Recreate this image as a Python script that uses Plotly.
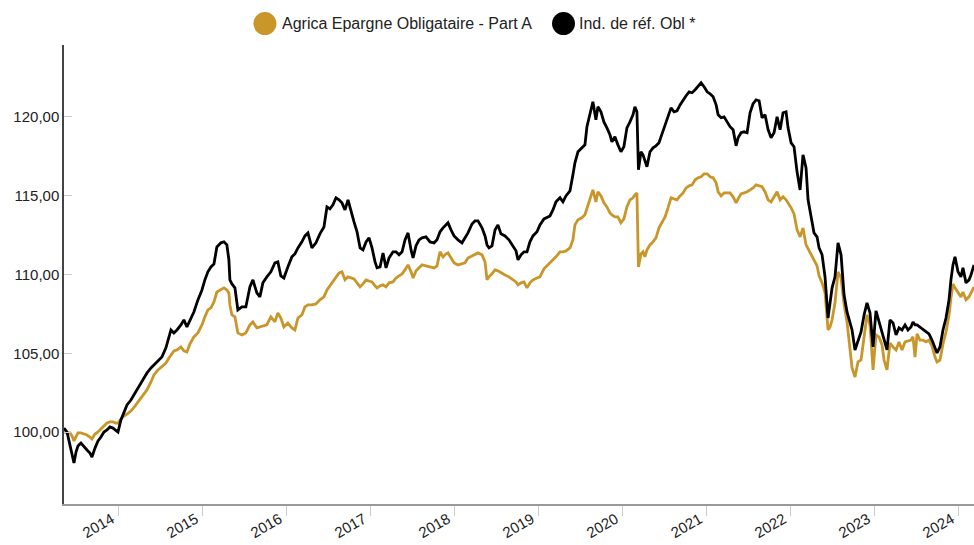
import calendar
from datetime import datetime, timedelta
import plotly.graph_objects as go

# Time in decimal years
t = [2013.349, 2013.385, 2013.420, 2013.444, 2013.468, 2013.492, 2013.515, 2013.551, 2013.587, 2013.623,
     2013.658, 2013.682, 2013.718, 2013.754, 2013.789, 2013.825, 2013.861, 2013.896, 2013.932, 2013.968,
     2013.992, 2014.027, 2014.063, 2014.099, 2014.146, 2014.194, 2014.242, 2014.289, 2014.337, 2014.385,
     2014.420, 2014.468, 2014.515, 2014.563, 2014.599, 2014.623, 2014.658, 2014.694, 2014.742, 2014.777,
     2014.813, 2014.849, 2014.896, 2014.944, 2014.992, 2015.027, 2015.063, 2015.099, 2015.135, 2015.170,
     2015.218, 2015.254, 2015.289, 2015.313, 2015.325, 2015.349, 2015.385, 2015.420, 2015.468, 2015.515,
     2015.563, 2015.599, 2015.646, 2015.682, 2015.718, 2015.765, 2015.813, 2015.861, 2015.896, 2015.932,
     2015.968, 2016.015, 2016.063, 2016.099, 2016.135, 2016.182, 2016.218, 2016.254, 2016.301, 2016.349,
     2016.396, 2016.444, 2016.480, 2016.515, 2016.551, 2016.587, 2016.623, 2016.658, 2016.694, 2016.730,
     2016.765, 2016.801, 2016.837, 2016.873, 2016.908, 2016.944, 2016.980, 2017.015, 2017.051, 2017.075,
     2017.111, 2017.146, 2017.182, 2017.218, 2017.265, 2017.301, 2017.337, 2017.373, 2017.408, 2017.444,
     2017.480, 2017.504, 2017.539, 2017.575, 2017.611, 2017.658, 2017.706, 2017.754, 2017.789, 2017.825,
     2017.861, 2017.896, 2017.920, 2017.956, 2017.992, 2018.039, 2018.087, 2018.123, 2018.158, 2018.206,
     2018.242, 2018.277, 2018.325, 2018.361, 2018.385, 2018.408, 2018.444, 2018.480, 2018.515, 2018.551,
     2018.599, 2018.646, 2018.694, 2018.730, 2018.754, 2018.790, 2018.825, 2018.861, 2018.896, 2018.932,
     2018.980, 2019.015, 2019.063, 2019.099, 2019.135, 2019.170, 2019.206, 2019.254, 2019.289, 2019.325,
     2019.373, 2019.408, 2019.432, 2019.468, 2019.515, 2019.551, 2019.575, 2019.611, 2019.646, 2019.682,
     2019.706, 2019.742, 2019.777, 2019.813, 2019.849, 2019.873, 2019.908, 2019.944, 2019.980, 2020.015,
     2020.051, 2020.087, 2020.123, 2020.146, 2020.170, 2020.188, 2020.218, 2020.242, 2020.265, 2020.289,
     2020.325, 2020.361, 2020.396, 2020.432, 2020.468, 2020.504, 2020.539, 2020.575, 2020.611, 2020.646,
     2020.682, 2020.718, 2020.754, 2020.790, 2020.825, 2020.861, 2020.896, 2020.932, 2020.968, 2021.004,
     2021.039, 2021.075, 2021.111, 2021.135, 2021.170, 2021.206, 2021.242, 2021.277, 2021.313, 2021.349,
     2021.373, 2021.408, 2021.444, 2021.480, 2021.515, 2021.551, 2021.587, 2021.623, 2021.658, 2021.694,
     2021.730, 2021.765, 2021.801, 2021.837, 2021.873, 2021.908, 2021.944, 2021.968, 2022.004, 2022.039,
     2022.075, 2022.111, 2022.146, 2022.182, 2022.206, 2022.242, 2022.277, 2022.313, 2022.337, 2022.373,
     2022.408, 2022.444, 2022.468, 2022.492, 2022.527, 2022.563, 2022.599, 2022.635, 2022.670, 2022.706,
     2022.730, 2022.765, 2022.801, 2022.837, 2022.873, 2022.908, 2022.944, 2022.980, 2023.015, 2023.051,
     2023.087, 2023.111, 2023.146, 2023.182, 2023.218, 2023.254, 2023.289, 2023.325, 2023.361, 2023.396,
     2023.432, 2023.456, 2023.480, 2023.504, 2023.539, 2023.575, 2023.611, 2023.646, 2023.682, 2023.718,
     2023.742, 2023.777, 2023.813, 2023.849, 2023.885, 2023.908, 2023.932, 2023.956, 2023.992, 2024.027,
     2024.051, 2024.087, 2024.123, 2024.146, 2024.182]

fund = [100.00, 99.94, 99.94, 99.75, 99.43, 99.75, 99.94, 99.94, 99.87, 99.81,
        99.68, 99.56, 99.87, 100.00, 100.19, 100.38, 100.57, 100.64, 100.64, 100.57,
        100.57, 100.83, 101.02, 101.14, 101.33, 101.65, 101.97, 102.29, 102.67, 103.18,
        103.62, 103.94, 104.13, 104.38, 104.70, 104.89, 105.15, 105.21, 105.40, 105.15,
        105.08, 105.59, 106.04, 106.29, 106.80, 107.31, 107.75, 107.88, 108.26, 108.89,
        109.02, 109.15, 109.02, 108.83, 108.07, 107.43, 107.31, 106.29, 106.16, 106.29,
        106.80, 106.99, 106.61, 106.67, 106.73, 106.80, 107.31, 106.99, 107.56, 107.24,
        106.67, 106.92, 106.61, 106.48, 107.24, 107.43, 107.94, 108.07, 108.07, 108.13,
        108.39, 108.58, 109.02, 109.28, 109.53, 109.85, 110.10, 110.17, 109.66, 109.85,
        109.78, 109.72, 109.47, 109.21, 109.40, 109.66, 109.59, 109.53, 109.28, 109.15,
        109.28, 109.34, 109.21, 109.47, 109.53, 109.78, 109.91, 110.04, 110.29, 110.61,
        110.17, 109.78, 110.23, 110.42, 110.61, 110.55, 110.48, 110.42, 110.55, 111.44,
        111.12, 111.31, 111.37, 111.05, 110.74, 110.61, 110.67, 110.74, 111.05, 111.18,
        111.31, 111.37, 111.25, 110.80, 109.66, 109.85, 110.04, 110.29, 110.23, 110.10,
        109.97, 109.85, 109.66, 109.53, 109.34, 109.47, 109.53, 109.15, 109.47, 109.66,
        109.78, 109.85, 110.36, 110.55, 110.74, 110.93, 111.12, 111.44, 111.44, 111.50,
        111.69, 112.20, 113.15, 113.47, 113.60, 113.79, 114.23, 114.74, 115.37, 114.61,
        115.25, 114.99, 114.55, 114.29, 113.91, 113.79, 113.66, 113.66, 113.28, 113.53,
        114.29, 114.74, 114.87, 115.06, 115.18, 110.48, 111.31, 111.44, 111.12, 111.56,
        111.88, 112.07, 112.33, 112.96, 113.34, 113.66, 114.23, 114.87, 114.80, 114.74,
        114.99, 115.18, 115.50, 115.63, 115.69, 116.01, 116.14, 116.20, 116.39, 116.39,
        116.20, 116.14, 115.82, 115.25, 114.99, 115.18, 115.18, 115.18, 114.93, 114.55,
        114.80, 115.12, 115.18, 115.25, 115.37, 115.50, 115.69, 115.63, 115.57, 115.25,
        114.74, 114.61, 114.93, 115.25, 114.74, 114.93, 114.74, 114.55, 114.23, 113.85,
        112.83, 112.39, 112.96, 111.88, 111.63, 111.31, 110.93, 110.55, 109.91, 109.47,
        108.83, 106.48, 106.67, 107.12, 108.20, 110.17, 109.78, 108.07, 106.99, 105.34,
        104.07, 103.49, 104.45, 104.57, 105.97, 107.43, 106.80, 103.94, 106.16, 106.04,
        105.53, 104.57, 103.94, 105.65, 105.40, 105.21, 105.72, 105.21, 105.72, 105.78,
        105.84, 106.04, 104.76, 106.23, 105.84, 105.84, 105.72, 105.84, 105.46, 104.76,
        104.45, 104.57, 105.59, 106.35, 107.43, 108.51, 109.40, 109.15, 108.83, 108.58,
        108.89, 108.39, 108.58, 108.83, 109.21]

bench = [100.25, 100.00, 99.17, 98.54, 98.03, 98.73, 99.11, 99.30, 99.05, 98.86,
         98.67, 98.41, 98.98, 99.43, 99.68, 100.00, 100.13, 100.32, 100.25, 100.13,
         100.00, 100.76, 101.27, 101.72, 102.03, 102.48, 102.92, 103.30, 103.75, 104.07,
         104.26, 104.57, 104.76, 105.34, 105.97, 106.48, 106.29, 106.48, 106.80, 107.12,
         106.67, 107.12, 107.62, 108.39, 109.02, 109.66, 110.17, 110.48, 110.67, 111.75,
         112.01, 112.07, 111.88, 110.93, 109.66, 109.40, 109.15, 107.75, 107.94, 107.94,
         109.21, 109.66, 108.83, 108.58, 109.47, 109.85, 110.17, 110.74, 110.80, 109.91,
         109.78, 110.48, 111.12, 111.31, 111.69, 112.07, 112.45, 112.64, 111.69, 112.01,
         112.58, 113.02, 114.29, 114.17, 114.42, 114.87, 114.74, 114.55, 114.10, 114.74,
         113.98, 113.34, 112.71, 111.69, 111.56, 112.07, 112.33, 111.69, 110.80, 110.42,
         110.48, 111.37, 110.42, 111.05, 111.44, 111.44, 111.25, 111.44, 112.20, 112.64,
         111.56, 111.05, 111.82, 112.20, 112.33, 112.39, 112.07, 112.01, 112.20, 112.71,
         112.96, 113.15, 113.28, 112.83, 112.45, 112.20, 112.01, 112.33, 112.64, 113.21,
         113.41, 113.41, 112.96, 112.45, 111.88, 111.69, 111.82, 112.83, 113.15, 112.58,
         112.45, 112.20, 111.75, 111.50, 110.93, 111.25, 111.44, 111.44, 112.07, 112.45,
         112.71, 113.15, 113.53, 113.60, 113.72, 114.10, 114.61, 114.87, 114.61, 114.99,
         115.31, 116.33, 117.09, 117.79, 118.04, 118.23, 119.38, 120.27, 120.97, 119.82,
         120.65, 120.33, 119.69, 119.31, 118.87, 118.42, 118.74, 118.23, 117.79, 118.11,
         119.31, 119.69, 120.14, 120.65, 120.33, 116.65, 117.79, 117.60, 117.15, 116.84,
         117.79, 118.04, 118.17, 118.36, 118.93, 119.50, 120.08, 120.58, 120.33, 120.39,
         120.77, 121.09, 121.35, 121.60, 121.54, 121.73, 121.92, 122.17, 121.92, 121.60,
         121.47, 121.28, 120.77, 120.14, 119.95, 120.01, 119.69, 119.38, 119.19, 118.17,
         118.68, 119.00, 119.06, 119.00, 120.27, 120.84, 121.09, 121.03, 119.95, 120.14,
         119.19, 118.68, 119.00, 120.01, 119.19, 120.27, 120.33, 119.31, 118.36, 118.11,
         116.52, 115.37, 117.60, 116.77, 114.74, 113.60, 112.64, 112.39, 111.69, 111.25,
         109.85, 107.24, 108.39, 109.15, 109.85, 112.01, 111.25, 108.70, 107.62, 106.99,
         106.48, 105.21, 105.84, 106.35, 107.43, 108.20, 107.56, 105.40, 107.69, 106.99,
         106.29, 105.84, 105.21, 107.12, 106.92, 106.16, 106.61, 106.48, 106.80, 106.48,
         106.67, 106.99, 106.80, 106.80, 106.67, 106.48, 106.35, 106.23, 105.84, 105.34,
         105.02, 105.40, 106.48, 107.24, 108.39, 109.66, 110.61, 111.12, 110.17, 109.85,
         110.42, 109.47, 109.66, 109.97, 110.61]

y_ticks = [100, 105, 110, 115, 120]
year_ticks = list(range(2014, 2025))

name_fund = "Agrica Epargne Obligataire - Part A"
name_bench = "Ind. de réf. Obl *"
GOLD = "#C9962A"
BLACK = "#000000"


def to_date(v):
    y = int(v)
    frac = v - y
    days = 366 if calendar.isleap(y) else 365
    return datetime(y, 1, 1) + timedelta(days=frac * days)


dates = [to_date(v) for v in t]

fig = go.Figure()
fig.add_trace(go.Scatter(x=dates, y=fund, mode="lines", name=name_fund,
                         line=dict(color=GOLD, width=2.8), showlegend=False))
fig.add_trace(go.Scatter(x=dates, y=bench, mode="lines", name=name_bench,
                         line=dict(color=BLACK, width=2.8), showlegend=False))

FONT = "Liberation Sans, Arial, sans-serif"

# Manual legend (large round markers)
legend_items = [(name_fund, GOLD, 0.2208, 0.2374),
                (name_bench, BLACK, 0.5489, 0.5637)]
shapes = []
annotations = []
for name, col, cx, tx in legend_items:
    shapes.append(dict(type="circle", xref="paper", yref="paper",
                       xsizemode="pixel", ysizemode="pixel",
                       xanchor=cx, yanchor=1.0468,
                       x0=-11.5, x1=11.5, y0=-11.5, y1=11.5,
                       fillcolor=col, line=dict(width=0)))
    annotations.append(dict(text=name, x=tx, y=1.0468, xref="paper", yref="paper",
                            xanchor="left", yanchor="middle", showarrow=False,
                            font=dict(family=FONT, size=16, color="#222")))

fig.update_layout(
    width=974, height=545,
    margin=dict(l=64, r=0, t=45, b=41),
    paper_bgcolor="white", plot_bgcolor="white",
    separators=", ",
    font=dict(family=FONT, size=15, color="#222"),
    shapes=shapes, annotations=annotations,
    showlegend=False,
)
fig.update_xaxes(
    type="date",
    automargin=False,
    range=[dates[0], dates[-1]],
    tickvals=[datetime(y, 1, 1) for y in year_ticks],
    ticktext=[str(y) for y in year_ticks],
    tickangle=-30,
    ticks="outside", ticklen=10, tickcolor="#cccccc", tickwidth=1,
    ticklabelstandoff=-11, ticklabelshift=-7,
    showline=True, linecolor="#999999", linewidth=1.5,
    showgrid=False, zeroline=False,
    tickfont=dict(family=FONT, size=15, color="#222"),
)
fig.update_yaxes(
    automargin=False,
    range=[95.43, 124.57],
    tickvals=y_ticks,
    tickformat=".2f",
    ticks="inside", ticklen=8, tickcolor="#cccccc", tickwidth=1,
    showline=True, linecolor="#444444", linewidth=1.5,
    showgrid=False, zeroline=False,
    tickfont=dict(family=FONT, size=15, color="#222"),
)

fig.write_html("out.html",
               config={"displayModeBar": False},
               post_script="document.body.style.margin='0';document.body.style.overflow='hidden';")
